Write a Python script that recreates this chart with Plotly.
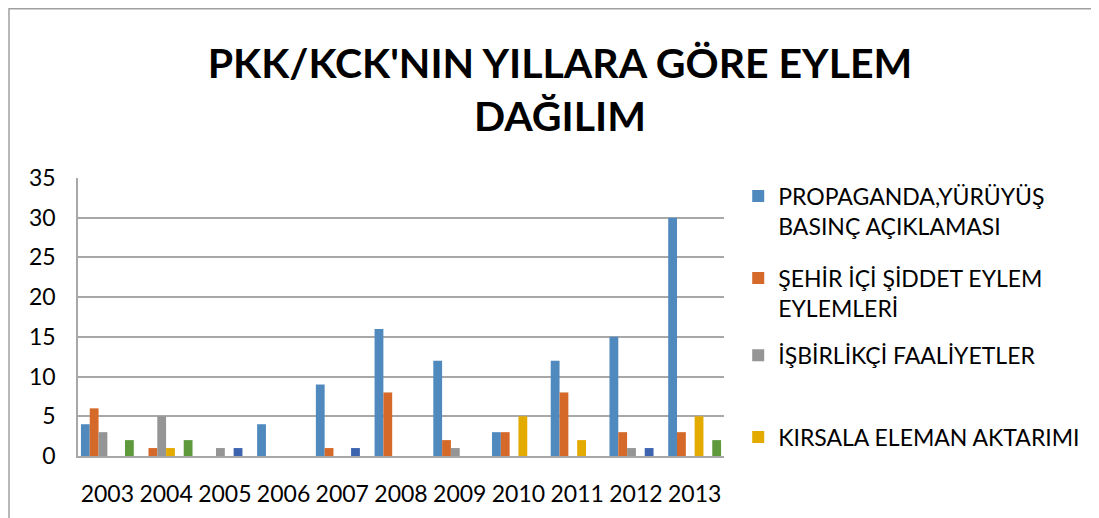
import plotly.graph_objects as go

years = ["2003", "2004", "2005", "2006", "2007", "2008", "2009", "2010", "2011", "2012", "2013"]

propaganda = [4, 0, 0, 4, 9, 16, 12, 3, 12, 15, 30]
sehir_ici = [6, 1, 0, 0, 1, 8, 2, 3, 8, 3, 3]
isbirlikci = [3, 5, 1, 0, 0, 0, 1, 0, 0, 1, 0]
kirsala = [0, 1, 0, 0, 0, 0, 0, 5, 2, 0, 5]
seri5 = [0, 0, 1, 0, 1, 0, 0, 0, 0, 1, 0]
seri6 = [2, 2, 0, 0, 0, 0, 0, 0, 0, 0, 2]

series = [
    ("PROPAGANDA,YÜRÜYÜŞ<br>BASINÇ AÇIKLAMASI", propaganda, "#4F89BD", "legend"),
    ("ŞEHİR İÇİ ŞİDDET EYLEM<br>EYLEMLERİ", sehir_ici, "#D5692A", "legend"),
    ("İŞBİRLİKÇİ FAALİYETLER<br>&nbsp;", isbirlikci, "#959595", "legend2"),
    ("KIRSALA ELEMAN AKTARIMI", kirsala, "#E3AA00", "legend2"),
    ("Seri 5", seri5, "#3D64AF", None),
    ("Seri 6", seri6, "#5E9A3C", None),
]

FONT = "Lato, Carlito, Calibri, sans-serif"

# page body has an 8px margin, so the figure is a little smaller than the window
W, H = 1091, 510

fig = go.Figure()
for i, (name, vals, color, leg) in enumerate(series):
    fig.add_trace(go.Bar(
        x=years,
        y=vals,
        name=name,
        marker=dict(color=color, line=dict(width=0)),
        showlegend=leg is not None,
        legend=leg or "legend",
        legendgroup=f"g{i}",
    ))

legend_style = dict(
    x=1.022,
    xanchor="left",
    yanchor="top",
    valign="top",
    font=dict(family=FONT, size=23, color="#000000"),
    tracegroupgap=19,
    itemwidth=30,
    bgcolor="rgba(0,0,0,0)",
)

fig.update_layout(
    width=W,
    height=H,
    paper_bgcolor="white",
    plot_bgcolor="white",
    barmode="group",
    bargap=0.1,
    bargroupgap=0,
    margin=dict(l=70, r=375, t=170, b=62),
    font=dict(family=FONT, color="#000000"),
    title=dict(
        text="<b>PKK/KCK'NIN YILLARA GÖRE EYLEM<br>DAĞILIM</b>",
        x=552 / W,
        xanchor="center",
        y=1 - 70 / H,
        yanchor="middle",
        font=dict(family=FONT, size=41, color="#000000"),
    ),
    legend=dict(legend_style, y=1.012),
    legend2=dict(legend_style, y=0.44),
    showlegend=True,
)

fig.update_yaxes(
    range=[0, 35],
    dtick=5,
    showgrid=True,
    gridcolor="#A8A8A8",
    gridwidth=1.5,
    showline=True,
    linecolor="#A8A8A8",
    linewidth=1.5,
    zeroline=False,
    tickfont=dict(family=FONT, size=23, color="#000000"),
    ticklabelstandoff=16,
)
fig.update_xaxes(
    showline=True,
    linecolor="#A8A8A8",
    linewidth=1.5,
    showgrid=False,
    tickfont=dict(family=FONT, size=23, color="#000000"),
    ticklabelstandoff=17,
)

# outer chart frame
fig.add_shape(
    type="rect",
    xref="paper", yref="paper",
    x0=(9 - 78) / 646, x1=(1140 - 78) / 646,
    y0=(456 - 560) / 278, y1=(456 - 8.8) / 278,
    line=dict(color="#A0A0A0", width=1.5),
    fillcolor="rgba(0,0,0,0)",
    layer="below",
)

fig.write_html("out.html")
